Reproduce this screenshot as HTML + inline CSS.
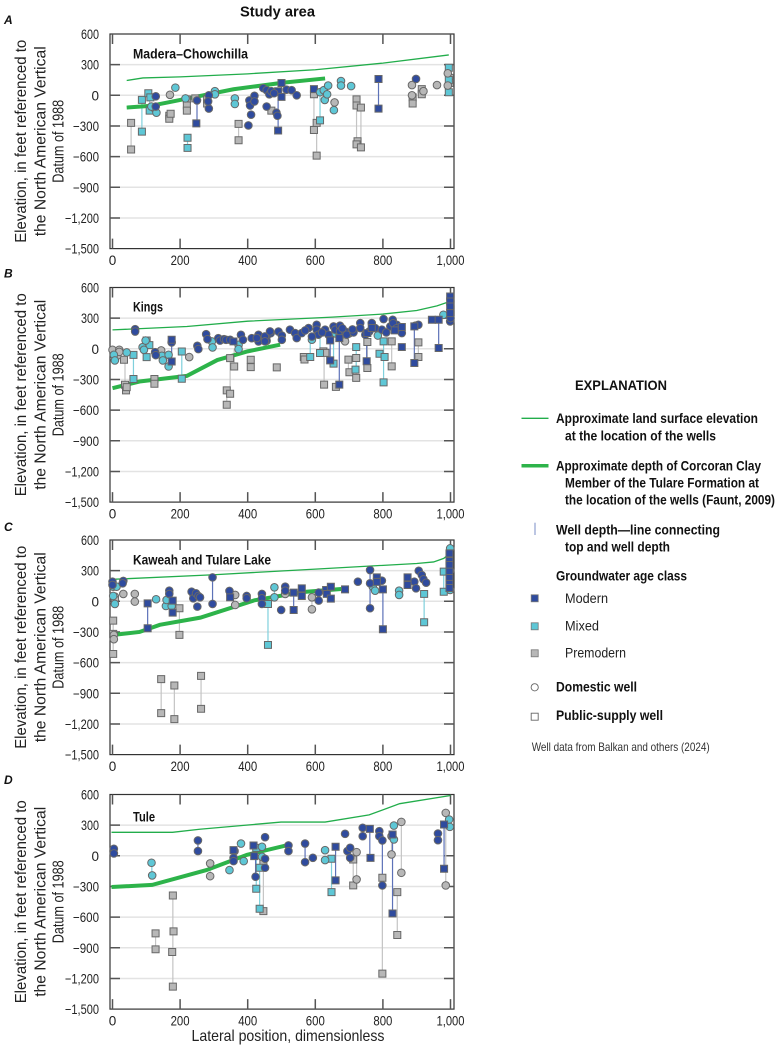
<!DOCTYPE html>
<html><head><meta charset="utf-8"><style>
html,body{margin:0;padding:0;background:#fff}
svg{display:block;font-family:"Liberation Sans",Arial,sans-serif}
.mk{stroke:#686868;stroke-width:1;vector-effect:non-scaling-stroke}
.lm,.lx,.lp,.g1,.g2{fill:none;vector-effect:non-scaling-stroke}
.lm{stroke:#5d72b8;stroke-width:1.2}
.lx{stroke:#7fd0dc;stroke-width:1.2}
.lp{stroke:#c4c4c4;stroke-width:1.2}
.g1{stroke:#22ad4b;stroke-width:1.3}
.g2{stroke:#2db34a;stroke-width:4}
.grid{stroke:#e3e3e3;stroke-width:1.5;fill:none}
.tk{stroke:#555;stroke-width:1.5;fill:none}
.yl{font-size:13.5px;text-anchor:end;fill:#222}
.xl{font-size:13.5px;text-anchor:middle;fill:#222}
.yt{font-size:16px;text-anchor:middle;fill:#222}
.pl{font-size:12px;font-weight:bold;font-style:italic;fill:#111}
.rl{font-size:13.5px;font-weight:bold;fill:#111}
.lb{font-size:14px;font-weight:bold;fill:#111}
.lr{font-size:14px;fill:#222}
</style></head><body>
<svg width="777" height="1045" viewBox="0 0 777 1045" xmlns="http://www.w3.org/2000/svg">
<defs>
<ellipse id="cm" rx="11.2" ry="37.2" fill="#2f4b9e" class="mk"/>
<ellipse id="cx" rx="11.2" ry="37.2" fill="#5ec7d6" class="mk"/>
<ellipse id="cp" rx="11.2" ry="37.2" fill="#b7b7b7" class="mk"/>
<rect id="sm" x="-10.4" y="-34.2" width="20.8" height="68.4" fill="#2f4b9e" class="mk"/>
<rect id="sx" x="-10.4" y="-34.2" width="20.8" height="68.4" fill="#5ec7d6" class="mk"/>
<rect id="sp" x="-10.4" y="-34.2" width="20.8" height="68.4" fill="#b7b7b7" class="mk"/>
<g id="axes">
<path class="grid" d="M110 30.64H454M110 61.3H454M110 91.96H454M110 122.6H454M110 153.3H454M110 183.94H454"/>
<rect x="110" y="0" width="344" height="214.6" fill="none" stroke="#333" stroke-width="1.2"/>
<path class="tk" d="M110 30.64h10M110 61.3h10M110 91.96h10M110 122.6h10M110 153.3h10M110 183.94h10M454 30.64h-10M454 61.3h-10M454 91.96h-10M454 122.6h-10M454 153.3h-10M454 183.94h-10M112.5 214.6v-10M180.1 214.6v-10M247.7 214.6v-10M315.3 214.6v-10M382.9 214.6v-10M450.5 214.6v-10M112.5 0v10M180.1 0v10M247.7 0v10M315.3 0v10M382.9 0v10M450.5 0v10"/>
</g>
</defs>

<text x="277.5" y="16.7" text-anchor="middle" font-size="15" font-weight="bold" fill="#111" textLength="75" lengthAdjust="spacingAndGlyphs">Study area</text>

<!-- Axis labels template per panel written explicitly -->
<!-- PANEL A -->
<g transform="translate(0,34)">
<use href="#axes"/>
<text class="pl" x="4" y="-10">A</text>
<text class="rl" x="133" y="24.3" textLength="115" lengthAdjust="spacingAndGlyphs">Madera–Chowchilla</text>
<g>
<text class="yl" x="99" y="5" textLength="18" lengthAdjust="spacingAndGlyphs">600</text>
<text class="yl" x="99" y="35.6" textLength="18" lengthAdjust="spacingAndGlyphs">300</text>
<text class="yl" x="99" y="66.3">0</text>
<text class="yl" x="99" y="97" textLength="26" lengthAdjust="spacingAndGlyphs">−300</text>
<text class="yl" x="99" y="127.6" textLength="26" lengthAdjust="spacingAndGlyphs">−600</text>
<text class="yl" x="99" y="158.3" textLength="26" lengthAdjust="spacingAndGlyphs">−900</text>
<text class="yl" x="99" y="189" textLength="34" lengthAdjust="spacingAndGlyphs">−1,200</text>
<text class="yl" x="99" y="219.6" textLength="34" lengthAdjust="spacingAndGlyphs">−1,500</text>
<text class="xl" x="112.5" y="231">0</text>
<text class="xl" x="180.1" y="231" textLength="19" lengthAdjust="spacingAndGlyphs">200</text>
<text class="xl" x="247.7" y="231" textLength="19" lengthAdjust="spacingAndGlyphs">400</text>
<text class="xl" x="315.3" y="231" textLength="19" lengthAdjust="spacingAndGlyphs">600</text>
<text class="xl" x="382.9" y="231" textLength="19" lengthAdjust="spacingAndGlyphs">800</text>
<text class="xl" x="450.5" y="231" textLength="28" lengthAdjust="spacingAndGlyphs">1,000</text>
<text class="yt" transform="translate(26,107.3) rotate(-90)" textLength="203" lengthAdjust="spacingAndGlyphs">Elevation, in feet referenced to</text>
<text class="yt" transform="translate(45.5,107.3) rotate(-90)" textLength="190" lengthAdjust="spacingAndGlyphs">the North American Vertical</text>
<text class="yt" transform="translate(63.5,107.3) rotate(-90)" textLength="83" lengthAdjust="spacingAndGlyphs">Datum of 1988</text>
</g>
<g transform="translate(112.5,61.3) scale(0.338,-0.1022)">
<path class="lp" d="M55 -270V-530M373 -280V-440M596 10V-340M604 -270V-590M722 -40V-480M735 -120V-510M220 -40V-150M168 -180V-230M888 -20V-80M915 60V10M998 170V120"/>
<path class="lx" d="M87 -45V-355M222 -415V-515M614 30V-245M110 20V-150M995 270V30"/>
<path class="lm" d="M250 -50V-275M490 40V-345M787 160V-130M596 60V10M500 120V-15"/>
<polyline class="g1" points="42,145 90,170 200,180 400,210 600,250 800,315 995,395"/>
<polyline class="g2" points="42,-120 111,-104 160,-72 358,59 506,124 629,165"/>
<use href="#sp" x="55" y="-270"/><use href="#sp" x="55" y="-530"/><use href="#sp" x="168" y="-200"/><use href="#sp" x="168" y="-230"/><use href="#sp" x="172" y="-180"/><use href="#sp" x="220" y="-40"/><use href="#sp" x="220" y="-100"/><use href="#sp" x="220" y="-150"/><use href="#sp" x="245" y="-30"/><use href="#sp" x="280" y="-40"/><use href="#sp" x="280" y="-80"/><use href="#sp" x="373" y="-280"/><use href="#sp" x="373" y="-440"/><use href="#sp" x="470" y="-150"/><use href="#sp" x="596" y="10"/><use href="#sp" x="596" y="-340"/><use href="#sp" x="604" y="-270"/><use href="#sp" x="604" y="-590"/><use href="#sp" x="722" y="-40"/><use href="#sp" x="722" y="-100"/><use href="#sp" x="725" y="-450"/><use href="#sp" x="722" y="-480"/><use href="#sp" x="735" y="-120"/><use href="#sp" x="735" y="-510"/><use href="#sp" x="888" y="-20"/><use href="#sp" x="888" y="-80"/><use href="#sp" x="915" y="60"/><use href="#sp" x="915" y="10"/><use href="#sp" x="998" y="170"/><use href="#sp" x="998" y="120"/>
<use href="#sx" x="87" y="-45"/><use href="#sx" x="87" y="-355"/><use href="#sx" x="106" y="20"/><use href="#sx" x="110" y="-150"/><use href="#sx" x="112" y="-20"/><use href="#sx" x="222" y="-415"/><use href="#sx" x="222" y="-515"/><use href="#sx" x="614" y="-245"/><use href="#sx" x="995" y="270"/><use href="#sx" x="995" y="30"/><use href="#sx" x="995" y="150"/>
<use href="#sm" x="248" y="-275"/><use href="#sm" x="490" y="40"/><use href="#sm" x="490" y="-345"/><use href="#sm" x="500" y="120"/><use href="#sm" x="500" y="-15"/><use href="#sm" x="596" y="60"/><use href="#sm" x="787" y="160"/><use href="#sm" x="787" y="-130"/>
<use href="#cp" x="170" y="5"/><use href="#cp" x="470" y="30"/><use href="#cp" x="657" y="-70"/><use href="#cp" x="886" y="100"/><use href="#cp" x="886" y="0"/><use href="#cp" x="920" y="40"/><use href="#cp" x="960" y="100"/><use href="#cp" x="992" y="215"/><use href="#cp" x="992" y="95"/>
<use href="#cx" x="125" y="-130"/><use href="#cx" x="130" y="-170"/><use href="#cx" x="115" y="-110"/><use href="#cx" x="186" y="75"/><use href="#cx" x="216" y="-30"/><use href="#cx" x="303" y="40"/><use href="#cx" x="303" y="10"/><use href="#cx" x="362" y="-30"/><use href="#cx" x="362" y="-85"/><use href="#cx" x="614" y="30"/><use href="#cx" x="625" y="50"/><use href="#cx" x="628" y="-45"/><use href="#cx" x="635" y="10"/><use href="#cx" x="638" y="95"/><use href="#cx" x="655" y="-145"/><use href="#cx" x="676" y="140"/><use href="#cx" x="676" y="95"/><use href="#cx" x="706" y="90"/>
<use href="#cm" x="128" y="-10"/><use href="#cm" x="128" y="-110"/><use href="#cm" x="250" y="-50"/><use href="#cm" x="285" y="0"/><use href="#cm" x="285" y="-130"/><use href="#cm" x="283" y="-60"/><use href="#cm" x="402" y="-295"/><use href="#cm" x="405" y="-50"/><use href="#cm" x="407" y="-100"/><use href="#cm" x="410" y="-190"/><use href="#cm" x="420" y="-5"/><use href="#cm" x="420" y="-60"/><use href="#cm" x="446" y="70"/><use href="#cm" x="456" y="50"/><use href="#cm" x="464" y="10"/><use href="#cm" x="456" y="-110"/><use href="#cm" x="485" y="-170"/><use href="#cm" x="488" y="-200"/><use href="#cm" x="515" y="55"/><use href="#cm" x="530" y="50"/><use href="#cm" x="545" y="0"/><use href="#cm" x="898" y="160"/><use href="#cm" x="470" y="40"/><use href="#cm" x="478" y="20"/>
</g>
</g>

<!-- PANEL B -->
<g transform="translate(0,287.5)">
<use href="#axes"/>
<text class="pl" x="4" y="-10">B</text>
<text class="rl" x="133" y="24.2" textLength="30" lengthAdjust="spacingAndGlyphs">Kings</text>
<text class="yl" x="99" y="5" textLength="18" lengthAdjust="spacingAndGlyphs">600</text>
<text class="yl" x="99" y="35.6" textLength="18" lengthAdjust="spacingAndGlyphs">300</text>
<text class="yl" x="99" y="66.3">0</text>
<text class="yl" x="99" y="97" textLength="26" lengthAdjust="spacingAndGlyphs">−300</text>
<text class="yl" x="99" y="127.6" textLength="26" lengthAdjust="spacingAndGlyphs">−600</text>
<text class="yl" x="99" y="158.3" textLength="26" lengthAdjust="spacingAndGlyphs">−900</text>
<text class="yl" x="99" y="189" textLength="34" lengthAdjust="spacingAndGlyphs">−1,200</text>
<text class="yl" x="99" y="219.6" textLength="34" lengthAdjust="spacingAndGlyphs">−1,500</text>
<text class="xl" x="112.5" y="231">0</text>
<text class="xl" x="180.1" y="231" textLength="19" lengthAdjust="spacingAndGlyphs">200</text>
<text class="xl" x="247.7" y="231" textLength="19" lengthAdjust="spacingAndGlyphs">400</text>
<text class="xl" x="315.3" y="231" textLength="19" lengthAdjust="spacingAndGlyphs">600</text>
<text class="xl" x="382.9" y="231" textLength="19" lengthAdjust="spacingAndGlyphs">800</text>
<text class="xl" x="450.5" y="231" textLength="28" lengthAdjust="spacingAndGlyphs">1,000</text>
<text class="yt" transform="translate(26,107.3) rotate(-90)" textLength="203" lengthAdjust="spacingAndGlyphs">Elevation, in feet referenced to</text>
<text class="yt" transform="translate(45.5,107.3) rotate(-90)" textLength="190" lengthAdjust="spacingAndGlyphs">the North American Vertical</text>
<text class="yt" transform="translate(63.5,107.3) rotate(-90)" textLength="83" lengthAdjust="spacingAndGlyphs">Datum of 1988</text>
<g transform="translate(112.5,61.3) scale(0.338,-0.1022)">
<path class="lp" d="M37 -107V-352M124 -296V-342M348 -91V-440M338 -407V-547M360 0V-173M409 -107V-179M626 -25V-350M698 -106V-230M721 -90V-285M826 73V-172M905 63V-80M754 66V-188"/>
<path class="lx" d="M62 -59V-296M101 81V-81M205 -26V-293M585 89V-80M721 17V-204M802 73V-328M654 140V-145M614 100V-41"/>
<path class="lm" d="M175 88V-124M644 82V-113M671 105V-350M752 154V-122M893 219V-139M965 284V8M999 512V268"/>
<polyline class="g1" points="0,185 220,218 400,270 650,310 800,340 900,375 960,420 1000,465"/>
<polyline class="g2" points="0,-385 80,-320 220,-265 310,-110 400,-25 496,40"/>
<use href="#sp" x="34" y="-107"/><use href="#sp" x="37" y="-352"/><use href="#sp" x="40" y="-407"/><use href="#sp" x="42" y="-375"/><use href="#sp" x="124" y="-296"/><use href="#sp" x="124" y="-342"/><use href="#sp" x="348" y="-91"/><use href="#sp" x="360" y="-173"/><use href="#sp" x="338" y="-407"/><use href="#sp" x="348" y="-440"/><use href="#sp" x="338" y="-547"/><use href="#sp" x="409" y="-107"/><use href="#sp" x="409" y="-179"/><use href="#sp" x="486" y="-182"/><use href="#sp" x="566" y="-80"/><use href="#sp" x="568" y="-105"/><use href="#sp" x="624" y="-25"/><use href="#sp" x="626" y="-350"/><use href="#sp" x="661" y="-373"/><use href="#sp" x="698" y="-106"/><use href="#sp" x="701" y="-230"/><use href="#sp" x="721" y="-90"/><use href="#sp" x="721" y="-285"/><use href="#sp" x="754" y="66"/><use href="#sp" x="754" y="-188"/><use href="#sp" x="826" y="73"/><use href="#sp" x="826" y="-172"/><use href="#sp" x="905" y="63"/><use href="#sp" x="905" y="-80"/><use href="#sp" x="630" y="-40"/>
<use href="#sx" x="62" y="-59"/><use href="#sx" x="62" y="-296"/><use href="#sx" x="101" y="81"/><use href="#sx" x="101" y="-81"/><use href="#sx" x="109" y="36"/><use href="#sx" x="205" y="-26"/><use href="#sx" x="205" y="-293"/><use href="#sx" x="585" y="-80"/><use href="#sx" x="614" y="-41"/><use href="#sx" x="654" y="-145"/><use href="#sx" x="721" y="17"/><use href="#sx" x="719" y="-204"/><use href="#sx" x="790" y="-48"/><use href="#sx" x="802" y="73"/><use href="#sx" x="802" y="-328"/><use href="#sx" x="805" y="-80"/>
<use href="#cp" x="0" y="-10"/><use href="#cp" x="20" y="-10"/><use href="#cp" x="14" y="-68"/><use href="#cp" x="144" y="-16"/><use href="#cp" x="227" y="-81"/><use href="#cp" x="688" y="73"/><use href="#cp" x="20" y="-30"/>
<use href="#cx" x="4" y="-59"/><use href="#cx" x="7" y="-114"/><use href="#cx" x="42" y="-36"/><use href="#cx" x="89" y="16"/><use href="#cx" x="98" y="81"/><use href="#cx" x="93" y="-10"/><use href="#cx" x="146" y="-68"/><use href="#cx" x="149" y="-114"/><use href="#cx" x="166" y="-59"/><use href="#cx" x="166" y="-173"/><use href="#cx" x="294" y="72"/><use href="#cx" x="296" y="13"/><use href="#cx" x="373" y="39"/><use href="#cx" x="373" y="-3"/><use href="#cx" x="590" y="89"/><use href="#cx" x="979" y="333"/><use href="#cx" x="660" y="150"/><use href="#cx" x="700" y="150"/><use href="#cx" x="785" y="130"/>
<use href="#cm" x="67" y="192"/><use href="#cm" x="67" y="169"/><use href="#cm" x="126" y="-33"/><use href="#cm" x="128" y="-62"/><use href="#cm" x="175" y="62"/><use href="#cm" x="251" y="29"/><use href="#cm" x="254" y="-3"/><use href="#cm" x="277" y="143"/><use href="#cm" x="281" y="94"/><use href="#cm" x="313" y="104"/><use href="#cm" x="318" y="81"/><use href="#cm" x="330" y="94"/><use href="#cm" x="336" y="88"/><use href="#cm" x="348" y="88"/><use href="#cm" x="380" y="137"/><use href="#cm" x="386" y="88"/><use href="#cm" x="412" y="104"/><use href="#cm" x="432" y="137"/><use href="#cm" x="432" y="72"/><use href="#cm" x="456" y="120"/><use href="#cm" x="456" y="78"/><use href="#cm" x="468" y="153"/><use href="#cm" x="491" y="169"/><use href="#cm" x="501" y="130"/><use href="#cm" x="501" y="88"/><use href="#cm" x="427" y="105"/><use href="#cm" x="451" y="121"/><use href="#cm" x="466" y="170"/><use href="#cm" x="451" y="73"/><use href="#cm" x="525" y="187"/><use href="#cm" x="540" y="154"/><use href="#cm" x="545" y="105"/><use href="#cm" x="560" y="154"/><use href="#cm" x="580" y="203"/><use href="#cm" x="604" y="235"/><use href="#cm" x="604" y="187"/><use href="#cm" x="609" y="138"/><use href="#cm" x="629" y="187"/><use href="#cm" x="639" y="138"/><use href="#cm" x="654" y="219"/><use href="#cm" x="659" y="187"/><use href="#cm" x="673" y="226"/><use href="#cm" x="673" y="170"/><use href="#cm" x="688" y="170"/><use href="#cm" x="693" y="138"/><use href="#cm" x="713" y="160"/><use href="#cm" x="733" y="252"/><use href="#cm" x="733" y="203"/><use href="#cm" x="748" y="138"/><use href="#cm" x="767" y="252"/><use href="#cm" x="777" y="203"/><use href="#cm" x="797" y="187"/><use href="#cm" x="802" y="291"/><use href="#cm" x="822" y="219"/><use href="#cm" x="829" y="284"/><use href="#cm" x="841" y="235"/><use href="#cm" x="856" y="154"/><use href="#cm" x="896" y="226"/><use href="#cm" x="905" y="235"/><use href="#cm" x="999" y="268"/><use href="#cm" x="570" y="180"/><use href="#cm" x="590" y="120"/><use href="#cm" x="620" y="160"/><use href="#cm" x="680" y="200"/><use href="#cm" x="710" y="190"/><use href="#cm" x="760" y="170"/><use href="#cm" x="810" y="160"/><use href="#cm" x="830" y="250"/><use href="#cm" x="840" y="200"/><use href="#cm" x="1000" y="300"/>
<use href="#sm" x="175" y="88"/><use href="#sm" x="175" y="-124"/><use href="#sm" x="358" y="72"/><use href="#sm" x="644" y="82"/><use href="#sm" x="644" y="-113"/><use href="#sm" x="671" y="105"/><use href="#sm" x="671" y="-350"/><use href="#sm" x="752" y="-122"/><use href="#sm" x="754" y="154"/><use href="#sm" x="767" y="203"/><use href="#sm" x="856" y="17"/><use href="#sm" x="893" y="219"/><use href="#sm" x="893" y="-139"/><use href="#sm" x="945" y="284"/><use href="#sm" x="965" y="284"/><use href="#sm" x="965" y="8"/><use href="#sm" x="999" y="512"/><use href="#sm" x="999" y="463"/><use href="#sm" x="999" y="414"/><use href="#sm" x="999" y="349"/><use href="#sm" x="835" y="180"/><use href="#sm" x="856" y="213"/>
</g>
</g>

<!-- PANEL C -->
<g transform="translate(0,540)">
<use href="#axes"/>
<text class="pl" x="4" y="-9">C</text>
<text class="rl" x="133" y="24.3" textLength="138" lengthAdjust="spacingAndGlyphs">Kaweah and Tulare Lake</text>
<text class="yl" x="99" y="5" textLength="18" lengthAdjust="spacingAndGlyphs">600</text>
<text class="yl" x="99" y="35.6" textLength="18" lengthAdjust="spacingAndGlyphs">300</text>
<text class="yl" x="99" y="66.3">0</text>
<text class="yl" x="99" y="97" textLength="26" lengthAdjust="spacingAndGlyphs">−300</text>
<text class="yl" x="99" y="127.6" textLength="26" lengthAdjust="spacingAndGlyphs">−600</text>
<text class="yl" x="99" y="158.3" textLength="26" lengthAdjust="spacingAndGlyphs">−900</text>
<text class="yl" x="99" y="189" textLength="34" lengthAdjust="spacingAndGlyphs">−1,200</text>
<text class="yl" x="99" y="219.6" textLength="34" lengthAdjust="spacingAndGlyphs">−1,500</text>
<text class="xl" x="112.5" y="231">0</text>
<text class="xl" x="180.1" y="231" textLength="19" lengthAdjust="spacingAndGlyphs">200</text>
<text class="xl" x="247.7" y="231" textLength="19" lengthAdjust="spacingAndGlyphs">400</text>
<text class="xl" x="315.3" y="231" textLength="19" lengthAdjust="spacingAndGlyphs">600</text>
<text class="xl" x="382.9" y="231" textLength="19" lengthAdjust="spacingAndGlyphs">800</text>
<text class="xl" x="450.5" y="231" textLength="28" lengthAdjust="spacingAndGlyphs">1,000</text>
<text class="yt" transform="translate(26,107.3) rotate(-90)" textLength="203" lengthAdjust="spacingAndGlyphs">Elevation, in feet referenced to</text>
<text class="yt" transform="translate(45.5,107.3) rotate(-90)" textLength="190" lengthAdjust="spacingAndGlyphs">the North American Vertical</text>
<text class="yt" transform="translate(63.5,107.3) rotate(-90)" textLength="83" lengthAdjust="spacingAndGlyphs">Datum of 1988</text>
<g transform="translate(112.5,61.3) scale(0.338,-0.1022)">
<path class="lp" d="M2 -189V-515M4 -329V-371M198 -68V-329M144 -762V-1094M183 -824V-1153M262 -730V-1052M590 39V-78M66 72V-3"/>
<path class="lx" d="M460 -26V-427M922 72V-205M980 290V94M479 137V39"/>
<path class="lm" d="M104 -20V-264M178 7V-111M296 234V-26M536 85V-85M762 306V-68M800 117V-274M997 469V130"/>
<polyline class="g1" points="0,215 300,260 600,315 900,370 950,385 980,420 995,460 1000,520"/>
<polyline class="g2" points="0,-330 80,-300 140,-230 260,-160 420,10 560,90 695,125"/>
<use href="#sp" x="2" y="-189"/><use href="#sp" x="2" y="-319"/><use href="#sp" x="2" y="-515"/><use href="#sp" x="198" y="-68"/><use href="#sp" x="198" y="-329"/><use href="#sp" x="144" y="-762"/><use href="#sp" x="144" y="-1094"/><use href="#sp" x="183" y="-824"/><use href="#sp" x="183" y="-1153"/><use href="#sp" x="262" y="-730"/><use href="#sp" x="262" y="-1052"/>
<use href="#sx" x="460" y="-26"/><use href="#sx" x="460" y="-427"/><use href="#sx" x="922" y="72"/><use href="#sx" x="922" y="-205"/><use href="#sx" x="980" y="290"/><use href="#sx" x="980" y="94"/>
<use href="#cp" x="4" y="-329"/><use href="#cp" x="4" y="-371"/><use href="#cp" x="7" y="46"/><use href="#cp" x="7" y="20"/><use href="#cp" x="32" y="72"/><use href="#cp" x="66" y="72"/><use href="#cp" x="66" y="-3"/><use href="#cp" x="363" y="62"/><use href="#cp" x="363" y="-36"/><use href="#cp" x="511" y="72"/><use href="#cp" x="590" y="39"/><use href="#cp" x="590" y="-78"/><use href="#cp" x="999" y="300"/>
<use href="#cx" x="2" y="143"/><use href="#cx" x="2" y="52"/><use href="#cx" x="7" y="-26"/><use href="#cx" x="12" y="143"/><use href="#cx" x="129" y="20"/><use href="#cx" x="158" y="-46"/><use href="#cx" x="160" y="13"/><use href="#cx" x="175" y="-46"/><use href="#cx" x="239" y="72"/><use href="#cx" x="479" y="137"/><use href="#cx" x="479" y="39"/><use href="#cx" x="770" y="143"/><use href="#cx" x="777" y="104"/><use href="#cx" x="848" y="104"/><use href="#cx" x="848" y="62"/><use href="#cx" x="999" y="518"/><use href="#cx" x="999" y="111"/>
<use href="#cm" x="0" y="192"/><use href="#cm" x="0" y="160"/><use href="#cm" x="32" y="199"/><use href="#cm" x="30" y="176"/><use href="#cm" x="168" y="104"/><use href="#cm" x="168" y="72"/><use href="#cm" x="234" y="94"/><use href="#cm" x="239" y="29"/><use href="#cm" x="247" y="78"/><use href="#cm" x="254" y="52"/><use href="#cm" x="259" y="39"/><use href="#cm" x="251" y="-52"/><use href="#cm" x="296" y="234"/><use href="#cm" x="296" y="-26"/><use href="#cm" x="346" y="101"/><use href="#cm" x="397" y="52"/><use href="#cm" x="397" y="30"/><use href="#cm" x="442" y="72"/><use href="#cm" x="442" y="29"/><use href="#cm" x="442" y="-26"/><use href="#cm" x="499" y="-85"/><use href="#cm" x="511" y="143"/><use href="#cm" x="511" y="104"/><use href="#cm" x="610" y="85"/><use href="#cm" x="610" y="7"/><use href="#cm" x="726" y="192"/><use href="#cm" x="762" y="306"/><use href="#cm" x="762" y="176"/><use href="#cm" x="762" y="-68"/><use href="#cm" x="797" y="202"/><use href="#cm" x="893" y="192"/><use href="#cm" x="898" y="127"/><use href="#cm" x="906" y="299"/><use href="#cm" x="915" y="257"/><use href="#cm" x="920" y="215"/><use href="#cm" x="928" y="182"/>
<use href="#sm" x="104" y="-20"/><use href="#sm" x="104" y="-264"/><use href="#sm" x="178" y="7"/><use href="#sm" x="178" y="-111"/><use href="#sm" x="348" y="39"/><use href="#sm" x="536" y="85"/><use href="#sm" x="536" y="-85"/><use href="#sm" x="560" y="127"/><use href="#sm" x="560" y="52"/><use href="#sm" x="632" y="111"/><use href="#sm" x="634" y="72"/><use href="#sm" x="646" y="143"/><use href="#sm" x="646" y="26"/><use href="#sm" x="688" y="117"/><use href="#sm" x="782" y="234"/><use href="#sm" x="782" y="190"/><use href="#sm" x="800" y="117"/><use href="#sm" x="800" y="-274"/><use href="#sm" x="873" y="234"/><use href="#sm" x="873" y="160"/><use href="#sm" x="997" y="469"/><use href="#sm" x="997" y="394"/><use href="#sm" x="997" y="355"/><use href="#sm" x="997" y="290"/><use href="#sm" x="997" y="228"/><use href="#sm" x="997" y="170"/><use href="#sm" x="997" y="130"/>
</g>
</g>

<!-- PANEL D -->
<g transform="translate(0,794.5)">
<use href="#axes"/>
<text class="pl" x="4" y="-10.5">D</text>
<text class="rl" x="133" y="27" textLength="22" lengthAdjust="spacingAndGlyphs">Tule</text>
<text class="yl" x="99" y="5" textLength="18" lengthAdjust="spacingAndGlyphs">600</text>
<text class="yl" x="99" y="35.6" textLength="18" lengthAdjust="spacingAndGlyphs">300</text>
<text class="yl" x="99" y="66.3">0</text>
<text class="yl" x="99" y="97" textLength="26" lengthAdjust="spacingAndGlyphs">−300</text>
<text class="yl" x="99" y="127.6" textLength="26" lengthAdjust="spacingAndGlyphs">−600</text>
<text class="yl" x="99" y="158.3" textLength="26" lengthAdjust="spacingAndGlyphs">−900</text>
<text class="yl" x="99" y="189" textLength="34" lengthAdjust="spacingAndGlyphs">−1,200</text>
<text class="yl" x="99" y="219.6" textLength="34" lengthAdjust="spacingAndGlyphs">−1,500</text>
<text class="xl" x="112.5" y="231">0</text>
<text class="xl" x="180.1" y="231" textLength="19" lengthAdjust="spacingAndGlyphs">200</text>
<text class="xl" x="247.7" y="231" textLength="19" lengthAdjust="spacingAndGlyphs">400</text>
<text class="xl" x="315.3" y="231" textLength="19" lengthAdjust="spacingAndGlyphs">600</text>
<text class="xl" x="382.9" y="231" textLength="19" lengthAdjust="spacingAndGlyphs">800</text>
<text class="xl" x="450.5" y="231" textLength="28" lengthAdjust="spacingAndGlyphs">1,000</text>
<text class="yt" transform="translate(26,107.3) rotate(-90)" textLength="203" lengthAdjust="spacingAndGlyphs">Elevation, in feet referenced to</text>
<text class="yt" transform="translate(45.5,107.3) rotate(-90)" textLength="190" lengthAdjust="spacingAndGlyphs">the North American Vertical</text>
<text class="yt" transform="translate(63.5,107.3) rotate(-90)" textLength="83" lengthAdjust="spacingAndGlyphs">Datum of 1988</text>
<text x="288" y="246.5" text-anchor="middle" font-size="16" fill="#222" textLength="193" lengthAdjust="spacingAndGlyphs">Lateral position, dimensionless</text>
<g transform="translate(111.5,61.3) scale(0.339,-0.1022)">
<path class="lp" d="M130 -759V-915M181 -388V-1280M291 -75V-199M448 -68V-541M713 -36V-290M723 36V-231M799 -215V-1153M843 -355V-775M855 332V-166M986 420V-290M826 192V13"/>
<path class="lx" d="M119 -68V-192M427 78V-322M437 -117V-518M649 -29V-355M444 88V-10"/>
<path class="lm" d="M255 150V46M425 101V-205M571 120V-62M661 88V-241M762 264V-20M799 150V-290M829 208V-564M981 306V-127M7 68V23M522 101V46M741 274V192"/>
<polyline class="g1" points="0,230 180,230 260,260 500,330 630,330 760,400 850,510 1000,590"/>
<polyline class="g2" points="0,-305 120,-285 280,-140 400,10 520,105"/>
<use href="#sp" x="130" y="-759"/><use href="#sp" x="130" y="-915"/><use href="#sp" x="181" y="-388"/><use href="#sp" x="183" y="-739"/><use href="#sp" x="179" y="-941"/><use href="#sp" x="181" y="-1280"/><use href="#sp" x="448" y="-68"/><use href="#sp" x="448" y="-541"/><use href="#sp" x="713" y="-36"/><use href="#sp" x="713" y="-290"/><use href="#sp" x="799" y="-215"/><use href="#sp" x="799" y="-1153"/><use href="#sp" x="843" y="-355"/><use href="#sp" x="843" y="-775"/><use href="#sp" x="829" y="200"/>
<use href="#sx" x="427" y="78"/><use href="#sx" x="427" y="-322"/><use href="#sx" x="437" y="-117"/><use href="#sx" x="437" y="-518"/><use href="#sx" x="649" y="-29"/><use href="#sx" x="649" y="-355"/>
<use href="#cp" x="291" y="-75"/><use href="#cp" x="291" y="-199"/><use href="#cp" x="723" y="36"/><use href="#cp" x="723" y="-231"/><use href="#cp" x="826" y="192"/><use href="#cp" x="826" y="13"/><use href="#cp" x="855" y="332"/><use href="#cp" x="855" y="-166"/><use href="#cp" x="986" y="420"/><use href="#cp" x="986" y="-290"/>
<use href="#cx" x="118" y="-68"/><use href="#cx" x="120" y="-192"/><use href="#cx" x="348" y="-140"/><use href="#cx" x="382" y="120"/><use href="#cx" x="390" y="-52"/><use href="#cx" x="444" y="88"/><use href="#cx" x="444" y="-10"/><use href="#cx" x="630" y="55"/><use href="#cx" x="630" y="-42"/><use href="#cx" x="833" y="296"/><use href="#cx" x="833" y="160"/><use href="#cx" x="996" y="355"/><use href="#cx" x="998" y="283"/>
<use href="#cm" x="7" y="68"/><use href="#cm" x="7" y="23"/><use href="#cm" x="255" y="150"/><use href="#cm" x="255" y="46"/><use href="#cm" x="363" y="46"/><use href="#cm" x="360" y="-20"/><use href="#cm" x="360" y="-52"/><use href="#cm" x="425" y="-205"/><use href="#cm" x="453" y="182"/><use href="#cm" x="453" y="-29"/><use href="#cm" x="453" y="-117"/><use href="#cm" x="522" y="101"/><use href="#cm" x="522" y="46"/><use href="#cm" x="571" y="120"/><use href="#cm" x="571" y="-62"/><use href="#cm" x="594" y="-20"/><use href="#cm" x="689" y="215"/><use href="#cm" x="696" y="46"/><use href="#cm" x="704" y="78"/><use href="#cm" x="704" y="-20"/><use href="#cm" x="741" y="274"/><use href="#cm" x="741" y="192"/><use href="#cm" x="790" y="241"/><use href="#cm" x="790" y="192"/><use href="#cm" x="799" y="150"/><use href="#cm" x="799" y="-290"/><use href="#cm" x="963" y="218"/><use href="#cm" x="963" y="153"/>
<use href="#sm" x="360" y="55"/><use href="#sm" x="419" y="101"/><use href="#sm" x="421" y="-3"/><use href="#sm" x="661" y="88"/><use href="#sm" x="661" y="-241"/><use href="#sm" x="762" y="264"/><use href="#sm" x="764" y="-20"/><use href="#sm" x="829" y="208"/><use href="#sm" x="829" y="-564"/><use href="#sm" x="981" y="306"/><use href="#sm" x="981" y="-127"/>
</g>
</g>

<!-- LEGEND -->
<text class="lb" x="575" y="390" textLength="92" lengthAdjust="spacingAndGlyphs">EXPLANATION</text>
<line x1="521.5" y1="418.3" x2="548.5" y2="418.3" stroke="#22ad4b" stroke-width="1.3"/>
<text class="lb" x="556" y="423" textLength="202" lengthAdjust="spacingAndGlyphs">Approximate land surface elevation</text>
<text class="lb" x="565" y="440.5" textLength="151" lengthAdjust="spacingAndGlyphs">at the location of the wells</text>
<line x1="521.5" y1="465.8" x2="548.5" y2="465.8" stroke="#2db34a" stroke-width="3.5"/>
<text class="lb" x="556" y="470.5" textLength="205" lengthAdjust="spacingAndGlyphs">Approximate depth of Corcoran Clay</text>
<text class="lb" x="565" y="487.5" textLength="194" lengthAdjust="spacingAndGlyphs">Member of the Tulare Formation at</text>
<text class="lb" x="565" y="504.5" textLength="210" lengthAdjust="spacingAndGlyphs">the location of the wells (Faunt, 2009)</text>
<line x1="535" y1="522.7" x2="535" y2="535" stroke="#8fa0d0" stroke-width="1.2"/>
<text class="lb" x="556" y="534.5" textLength="164" lengthAdjust="spacingAndGlyphs">Well depth—line connecting</text>
<text class="lb" x="565" y="551.5" textLength="105" lengthAdjust="spacingAndGlyphs">top and well depth</text>
<text class="lb" x="556" y="580.5" textLength="131" lengthAdjust="spacingAndGlyphs">Groundwater age class</text>
<rect x="531.2" y="594.8" width="7" height="7" fill="#2f4b9e" stroke="#777" stroke-width="0.8"/>
<text class="lr" x="565" y="603" textLength="43" lengthAdjust="spacingAndGlyphs">Modern</text>
<rect x="531.2" y="622.8" width="7" height="7" fill="#5ec7d6" stroke="#777" stroke-width="0.8"/>
<text class="lr" x="565" y="630.5" textLength="34" lengthAdjust="spacingAndGlyphs">Mixed</text>
<rect x="531.2" y="649.8" width="7" height="7" fill="#b7b7b7" stroke="#777" stroke-width="0.8"/>
<text class="lr" x="565" y="657.5" textLength="61" lengthAdjust="spacingAndGlyphs">Premodern</text>
<circle cx="534.7" cy="687.3" r="3.6" fill="#fff" stroke="#666" stroke-width="0.9"/>
<text class="lb" x="556" y="691.7" textLength="81" lengthAdjust="spacingAndGlyphs">Domestic well</text>
<rect x="531.2" y="713.2" width="7" height="7" fill="#fff" stroke="#666" stroke-width="0.9"/>
<text class="lb" x="556" y="720" textLength="107" lengthAdjust="spacingAndGlyphs">Public-supply well</text>
<text x="531.7" y="751" font-size="12" fill="#333" textLength="178" lengthAdjust="spacingAndGlyphs">Well data from Balkan and others (2024)</text>
</svg>
</body></html>
